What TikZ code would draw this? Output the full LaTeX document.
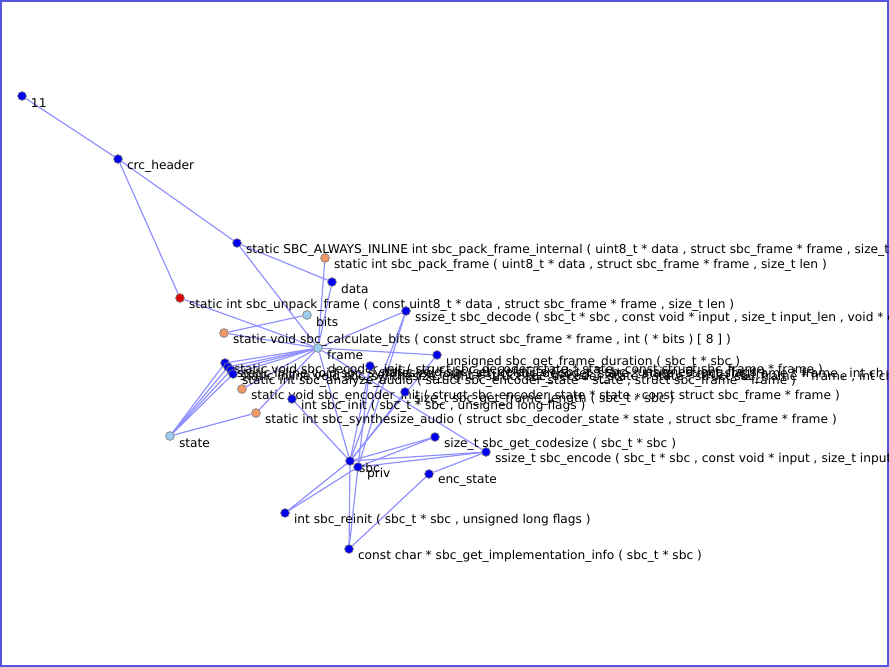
\documentclass[tikz,border=0pt]{standalone}
\usepackage{fontspec}
\setmainfont{DejaVu Sans}
\usetikzlibrary{backgrounds}
\definecolor{edgeblue}{HTML}{9090FF}
\definecolor{dotblue}{HTML}{0000EE}
\definecolor{dotorange}{HTML}{EE9966}
\definecolor{dotlight}{HTML}{99CCEE}
\definecolor{dotred}{HTML}{DD0000}
\definecolor{boxblue}{HTML}{5555DD}

\begin{document}
\begin{tikzpicture}[x=0.75pt,y=-0.75pt,
every label/.style={font=\fontsize{9.15}{10}\selectfont,inner sep=0pt,yshift=-5.2pt},
label distance=3pt,
dot/.style={circle,draw=gray,line width=0.5pt,minimum size=6.6pt,inner sep=0pt},
fn/.style={dot,fill=dotblue},
var/.style={dot,fill=dotlight},
stat/.style={dot,fill=dotorange},
hot/.style={dot,fill=dotred},
link/.style={draw=edgeblue,line width=0.9pt}
]
\useasboundingbox (0,0) rectangle (889,667);
\clip (0,0) rectangle (889,667);
\draw[boxblue,line width=0.9pt] (1,1) rectangle (888,666);

% nodes
\node[fn] (n11) at (22,96) [label={east:11}] {};
\node[fn] (crc) at (118,159) [label={east:crc\_header}] {};
\node[fn] (packint) at (237,243) [label={east:{static SBC\_ALWAYS\_INLINE int sbc\_pack\_frame\_internal ( uint8\_t * data , struct sbc\_frame * frame , size\_t len , int joint )}}] {};
\node[stat] (packfr) at (325,258) [label={east:{static int sbc\_pack\_frame ( uint8\_t * data , struct sbc\_frame * frame , size\_t len )}}] {};
\node[fn] (data) at (332,282) [label={east:data}] {};
\node[hot] (unpack) at (180,298) [label={east:{static int sbc\_unpack\_frame ( const uint8\_t * data , struct sbc\_frame * frame , size\_t len )}}] {};
\node[var] (bits) at (307,315) [label={east:bits}] {};
\node[fn] (decode) at (406,311) [label={east:{ssize\_t sbc\_decode ( sbc\_t * sbc , const void * input , size\_t input\_len , void * output , size\_t output\_len , size\_t * written )}}] {};
\node[stat] (calcbits) at (224,333) [label={east:{static void sbc\_calculate\_bits ( const struct sbc\_frame * frame , int ( * bits ) [ 8 ] )}}] {};
\node[var] (frame) at (318,348) [label={east:frame}] {};
\node[fn] (duration) at (437,355) [label={east:{unsigned sbc\_get\_frame\_duration ( sbc\_t * sbc )}}] {};
\node[fn] (decinit) at (225,363) [label={east:{static void sbc\_decoder\_init ( struct sbc\_decoder\_state * state , const struct sbc\_frame * frame )}}] {};
\node[fn] (synfour) at (228,367) [label={east:{static inline void sbc\_synthesize\_four ( struct sbc\_decoder\_state * state , struct sbc\_frame * frame , int ch , int blk )}}] {};
\node[fn] (syneight) at (231,370) [label={east:{static inline void sbc\_synthesize\_eight ( struct sbc\_decoder\_state * state , struct sbc\_frame * frame , int ch , int blk )}}] {};
\node[fn] (analyze) at (233,374) [label={east:{static int sbc\_analyze\_audio ( struct sbc\_encoder\_state * state , struct sbc\_frame * frame )}}] {};
\node[fn] (defaults) at (370,366) [label={east:{static void sbc\_set\_defaults ( sbc\_t * sbc , unsigned long flags )}}] {};
\node[stat] (encinit) at (242,389) [label={east:{static void sbc\_encoder\_init ( struct sbc\_encoder\_state * state , const struct sbc\_frame * frame )}}] {};
\node[fn] (framelen) at (405,392) [label={east:{size\_t sbc\_get\_frame\_length ( sbc\_t * sbc )}}] {};
\node[fn] (sbcinit) at (292,399) [label={east:{int sbc\_init ( sbc\_t * sbc , unsigned long flags )}}] {};
\node[stat] (synaudio) at (256,413) [label={east:{static int sbc\_synthesize\_audio ( struct sbc\_decoder\_state * state , struct sbc\_frame * frame )}}] {};
\node[var] (state) at (170,436) [label={east:state}] {};
\node[fn] (codesize) at (435,437) [label={east:{size\_t sbc\_get\_codesize ( sbc\_t * sbc )}}] {};
\node[fn] (encode) at (486,452) [label={east:{ssize\_t sbc\_encode ( sbc\_t * sbc , const void * input , size\_t input\_len , void * output , size\_t output\_len , ssize\_t * written )}}] {};
\node[fn] (sbc) at (350,461) [label={east:sbc}] {};
\node[fn] (priv) at (358,467) [label={east:priv}] {};
\node[fn] (encstate) at (429,474) [label={east:enc\_state}] {};
\node[fn] (reinit) at (285,513) [label={east:{int sbc\_reinit ( sbc\_t * sbc , unsigned long flags )}}] {};
\node[fn] (impl) at (349,549) [label={east:{const char * sbc\_get\_implementation\_info ( sbc\_t * sbc )}}] {};

% edges
\begin{scope}[on background layer]
\draw[link] (n11) -- (crc); \draw[link] (crc) -- (packint); \draw[link] (crc) -- (unpack);
\draw[link] (packint) -- (data); \draw[link] (packint) -- (frame); \draw[link] (packfr) -- (frame);
\draw[link] (data) -- (frame); \draw[link] (unpack) -- (frame);
\draw[link] (bits) -- (calcbits); \draw[link] (calcbits) -- (frame);
\draw[link] (frame) -- (decode); \draw[link] (frame) -- (duration);
\draw[link] (frame) -- (decinit); \draw[link] (frame) -- (synfour); \draw[link] (frame) -- (syneight);
\draw[link] (frame) -- (analyze); \draw[link] (frame) -- (encinit); \draw[link] (frame) -- (synaudio);
\draw[link] (frame) -- (encode); \draw[link] (frame) -- (sbc);
\draw[link] (state) -- (decinit); \draw[link] (state) -- (synfour); \draw[link] (state) -- (syneight);
\draw[link] (state) -- (analyze); \draw[link] (state) -- (synaudio);
\draw[link] (decode) -- (sbc); \draw[link] (decode) -- (priv);
\draw[link] (duration) -- (sbc); \draw[link] (defaults) -- (priv); \draw[link] (defaults) -- (sbc);
\draw[link] (framelen) -- (sbc); \draw[link] (sbcinit) -- (sbc);
\draw[link] (codesize) -- (sbc); \draw[link] (codesize) -- (priv);
\draw[link] (encode) -- (sbc); \draw[link] (encode) -- (priv); \draw[link] (encode) -- (encstate);
\draw[link] (encstate) -- (impl);
\draw[link] (reinit) -- (sbc); \draw[link] (reinit) -- (priv);
\draw[link] (impl) -- (sbc); \draw[link] (impl) -- (priv);
\end{scope}
\end{tikzpicture}
\end{document}
